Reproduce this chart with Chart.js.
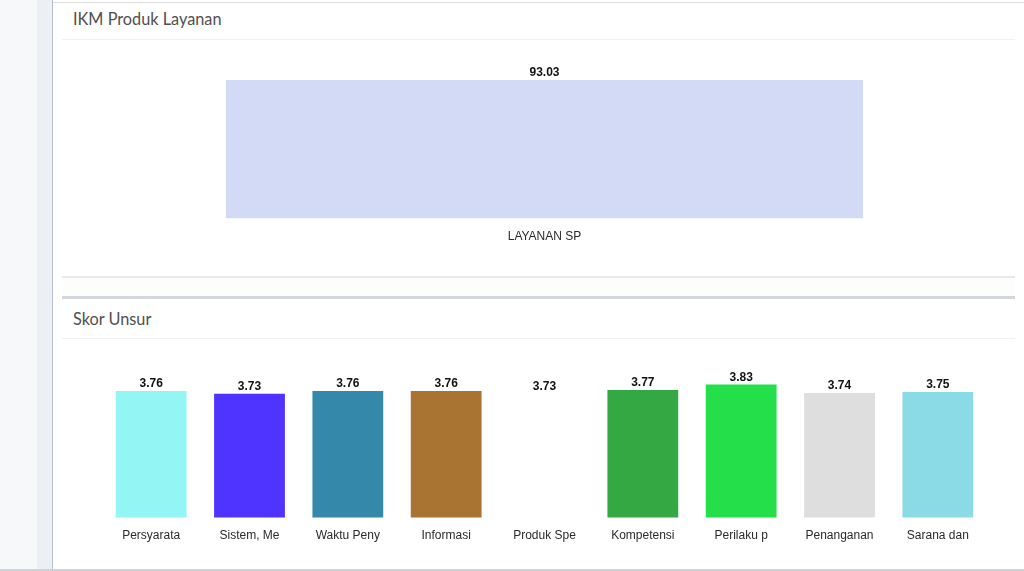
<!DOCTYPE html>
<html lang="en">
<head>
    <meta charset="UTF-8">
    <title>IKM Produk Layanan</title>
    <script src="https://cdn.jsdelivr.net/npm/chart.js"></script>
    <style>
        body { margin: 0; width: 1024px; height: 571px; background: #fff; position: relative; overflow: hidden; font-family: Lato, sans-serif; }
        #side1 { position: absolute; left: 0; top: 0; width: 37px; height: 571px; background: #f7f8fa; }
        #side2 { position: absolute; left: 37px; top: 0; width: 15px; height: 571px; background: #eceff3; border-right: 1px solid #b4c2d0; }
        #topline { position: absolute; left: 53px; top: 2px; width: 971px; height: 1px; background: #dedede; }
        #botline { position: absolute; left: 0; top: 569px; width: 1024px; height: 2px; background: #cfd3d8; }
        .card { position: absolute; left: 62px; width: 953px; background: #fff; }
        .card-header { height: 36px; border-bottom: 1px solid #f1f1f1; color: #505050; font-size: 16.3px; line-height: 32px; padding-left: 11px; }
        #card1 { top: 3px; height: 273px; border-bottom: 2px solid #e6e8eb; }
        #gap { position: absolute; left: 62px; top: 278px; width: 953px; height: 18px; background: #fdfdfc; }
        #card2 { top: 296px; height: 273px; border-top: 3px solid #d3d7dc; }
        #card2 .card-header { height: 39px; line-height: 39px; }
        .chart-box { position: relative; width: 953px; }
    </style>
</head>
<body>
    <div id="side1"></div>
    <div id="side2"></div>
    <div id="topline"></div>

    <div class="card" id="card1">
        <div class="card-header">IKM Produk Layanan</div>
        <div class="chart-box" style="height: 236px;"><canvas id="ikm_chart"></canvas></div>
    </div>
    <div id="gap"></div>
    <div class="card" id="card2">
        <div class="card-header">Skor Unsur</div>
        <div class="chart-box" style="height: 230px;"><canvas id="unsur_chart"></canvas></div>
    </div>
    <div id="botline"></div>

    <script>
        // IKM per layanan
        var ikmLabels = ["LAYANAN SP"];
        var ikmValues = [93.03];
        var ikmColors = ["#d3daf5"];

        // Skor per unsur
        var unsurLabels = ["Persyarata", "Sistem, Me", "Waktu Peny", "Informasi", "Produk Spe",
                           "Kompetensi", "Perilaku p", "Penanganan", "Sarana dan"];
        var unsurValues = [3.76, 3.73, 3.76, 3.76, 3.73, 3.77, 3.83, 3.74, 3.75];
        var unsurColors = ["#94f6f4", "#4f33ff", "#3489aa", "#a97432", "#ffffff",
                           "#33a843", "#24df49", "#dedede", "#8adbe5"];

        // draws the value above each bar
        var valueLabels = {
            id: 'valueLabels',
            afterDatasetsDraw: function (chart) {
                var ctx = chart.ctx;
                ctx.save();
                ctx.font = "bold 12px 'Liberation Sans', Arial, sans-serif";
                ctx.fillStyle = "#111";
                ctx.textAlign = "center";
                ctx.textBaseline = "alphabetic";
                chart.data.datasets.forEach(function (ds, i) {
                    chart.getDatasetMeta(i).data.forEach(function (bar, j) {
                        ctx.fillText(ds.data[j].toFixed(2), bar.x, bar.y - 4);
                    });
                });
                ctx.restore();
            }
        };

        function barOptions(yMin, yMax, padTop, padBottom) {
            return {
                responsive: true,
                maintainAspectRatio: false,
                animation: false,
                layout: { padding: { left: 40, right: 28, top: padTop, bottom: padBottom } },
                plugins: { legend: { display: false }, tooltip: { enabled: false } },
                scales: {
                    x: {
                        grid: { display: false },
                        border: { display: false },
                        ticks: { color: "#2a2a2a", font: { family: "'Liberation Sans', Arial, sans-serif", size: 12 } }
                    },
                    y: { display: false, min: yMin, max: yMax }
                }
            };
        }

        Chart.defaults.font.family = "'Liberation Sans', Arial, sans-serif";

        new Chart(document.getElementById("ikm_chart"), {
            type: 'bar',
            data: {
                labels: ikmLabels,
                datasets: [{ data: ikmValues, backgroundColor: ikmColors }]
            },
            options: barOptions(0, 93.03, 40, 29),
            plugins: [valueLabels]
        });

        new Chart(document.getElementById("unsur_chart"), {
            type: 'bar',
            data: {
                labels: unsurLabels,
                datasets: [{ data: unsurValues, backgroundColor: unsurColors }]
            },
            options: barOptions(2.4, 3.9, 39, 23),
            plugins: [valueLabels]
        });
    </script>
</body>
</html>
